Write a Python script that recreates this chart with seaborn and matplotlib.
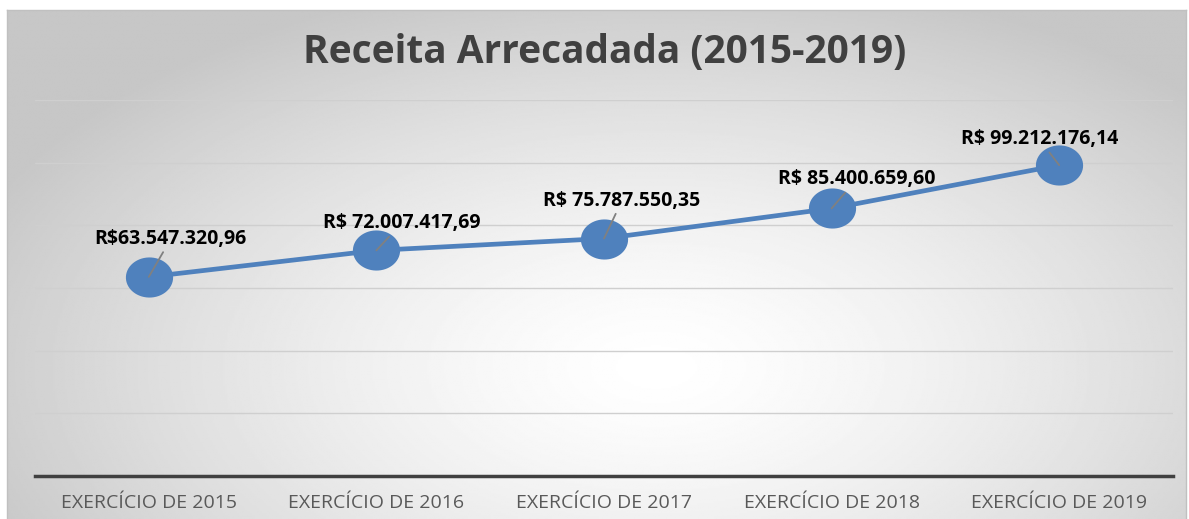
import numpy as np
import pandas as pd
import matplotlib
matplotlib.use("Agg")
import matplotlib.pyplot as plt
from matplotlib.path import Path
import seaborn as sns

categories = ["EXERCÍCIO DE 2015", "EXERCÍCIO DE 2016", "EXERCÍCIO DE 2017",
              "EXERCÍCIO DE 2018", "EXERCÍCIO DE 2019"]
values = [63547320.96, 72007417.69, 75787550.35, 85400659.60, 99212176.14]
labels = ["R$63.547.320,96", "R$ 72.007.417,69", "R$ 75.787.550,35",
          "R$ 85.400.659,60", "R$ 99.212.176,14"]
title = "Receita Arrecadada (2015-2019)"

sns.set_theme(style="white")
plt.rcParams['font.family'] = ['Open Sans', 'DejaVu Sans']

W, H = 1189, 519
fig = plt.figure(figsize=(W / 100, H / 100), dpi=100)
fig.patch.set_facecolor("white")

# gradient background panel
bx0, by0, bx1, by1 = 7, 10, 1186, 519
bg = fig.add_axes([bx0 / W, 1 - by1 / H, (bx1 - bx0) / W, (by1 - by0) / H])
ny, nx = 300, 700
yy, xx = np.mgrid[0:ny, 0:nx]
cx, cy = 0.55 * nx, 0.70 * ny
r = np.sqrt(((xx - cx) / (0.62 * nx)) ** 2 + ((yy - cy) / (0.78 * ny)) ** 2)
r = np.clip(r, 0, 1)
shade = 1.0 - 0.22 * r ** 1.4
bg.imshow(shade, cmap="gray", vmin=0, vmax=1, aspect="auto", interpolation="bilinear")
bg.set_xticks([]); bg.set_yticks([])
for s in bg.spines.values():
    s.set_color("#c0c0c0")
    s.set_linewidth(1)
bg.spines["bottom"].set_visible(False)
bg.set_zorder(0)

# main axes
ax = fig.add_axes([35 / W, 1 - 476 / H, (1173 - 35) / W, (476 - 100) / H])
ax.set_zorder(1)
ax.patch.set_alpha(0)

df = pd.DataFrame({"cat": categories, "val": values})

t = np.linspace(0, 2 * np.pi, 60)
ell = Path(np.column_stack([np.cos(t), 0.85 * np.sin(t)]), closed=True)

sns.lineplot(data=df, x="cat", y="val", ax=ax, color="#4F81BD", linewidth=3.4,
             marker=ell, markersize=34, markeredgewidth=0, markerfacecolor="#4F81BD",
             zorder=3)

ax.set_xlim(-0.5, 4.5)
ax.set_ylim(0, 120e6)
ax.set_yticks(np.arange(0, 120e6 + 1, 20e6))
ax.yaxis.grid(True, color="#cfcfcf", linewidth=1)
ax.xaxis.grid(False)
ax.set_yticklabels([])
ax.tick_params(axis="y", length=0)
ax.tick_params(axis="x", length=0, pad=13, labelsize=14, labelcolor="#595959")
ax.set_xlabel("")
ax.set_ylabel("")
for side in ["top", "left", "right"]:
    ax.spines[side].set_visible(False)
ax.spines["bottom"].set_color("#404040")
ax.spines["bottom"].set_linewidth(2.5)
ax.spines["bottom"].set_zorder(4)

offsets = [(22, 38), (25, 27), (18, 38), (25, 29), (-20, 26)]
for i, (v, lab, off) in enumerate(zip(values, labels, offsets)):
    ax.annotate(lab, xy=(i, v), xytext=off, textcoords="offset pixels",
                ha="center", va="center", fontsize=14, fontweight="bold",
                color="black",
                arrowprops=dict(arrowstyle="-", color="#808080", lw=1.3,
                                shrinkA=0, shrinkB=0),
                zorder=5)

fig.text(605 / W, 1 - 53 / H, title, ha="center", va="center",
         fontsize=28, fontweight="bold", color="#404040",
         family=["Open Sans", "DejaVu Sans"])

fig.savefig("out.png", dpi=100)
